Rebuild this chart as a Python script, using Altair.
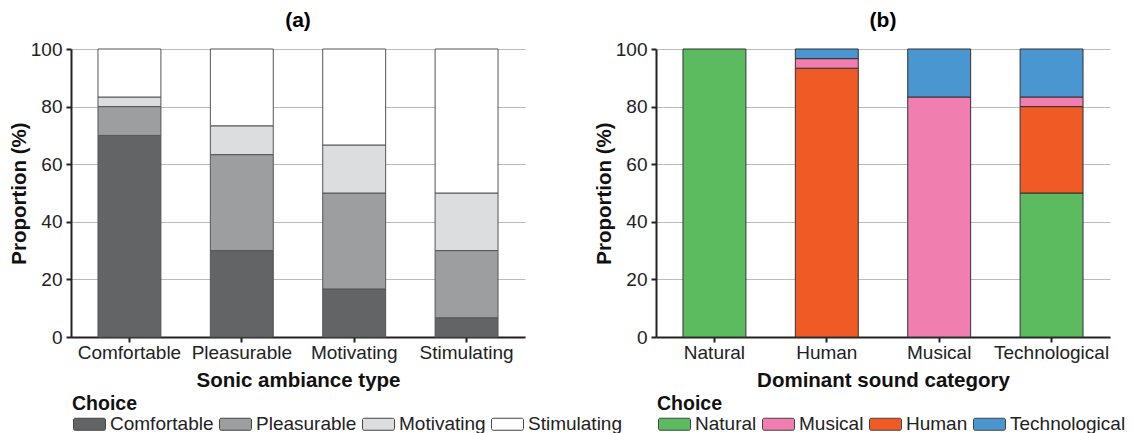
import altair as alt
import pandas as pd

# Panel (a): sonic ambiance type vs. chosen ambiance
a_categories = ["Comfortable", "Pleasurable", "Motivating", "Stimulating"]
a_choices = ["Comfortable", "Pleasurable", "Motivating", "Stimulating"]
a_colors = ["#636466", "#9d9ea0", "#dcdddf", "#ffffff"]
a_comfortable = [70, 30, 16.67, 6.67]
a_pleasurable = [10, 33.33, 33.33, 23.33]
a_motivating = [3.33, 10, 16.67, 20]
a_stimulating = [16.67, 26.67, 33.33, 50]

# Panel (b): dominant sound category vs. chosen category
b_categories = ["Natural", "Human", "Musical", "Technological"]
b_legend = ["Natural", "Musical", "Human", "Technological"]
b_stack = ["Natural", "Human", "Musical", "Technological"]
b_colors = ["#5cbb5f", "#f07fb0", "#f05a24", "#4a96d0"]
b_natural = [100, 0, 0, 50]
b_human = [0, 93.33, 0, 30]
b_musical = [0, 3.33, 83.33, 3.33]
b_technological = [0, 3.34, 16.67, 16.67]

FONT = "Liberation Sans"
# wide rounded-rectangle legend swatch (about 32 x 12 px at symbolSize 256),
# drawn rightwards from the left edge of the symbol slot
SYMBOL = ("M-0.8,-0.75 H2.8 A0.2,0.2 0 0 1 3,-0.55 V0.55 A0.2,0.2 0 0 1 2.8,0.75 "
          "H-0.8 A0.2,0.2 0 0 1 -1,0.55 V-0.55 A0.2,0.2 0 0 1 -0.8,-0.75 Z")


def long_table(categories, series, order_names):
    rows = []
    for name, vals in series.items():
        for cat, v in zip(categories, vals):
            if v > 0:
                rows.append({"cat": cat, "choice": name, "value": v,
                             "ord": order_names.index(name)})
    return pd.DataFrame(rows)


df_a = long_table(a_categories, {
    "Comfortable": a_comfortable, "Pleasurable": a_pleasurable,
    "Motivating": a_motivating, "Stimulating": a_stimulating}, a_choices)
df_b = long_table(b_categories, {
    "Natural": b_natural, "Human": b_human,
    "Musical": b_musical, "Technological": b_technological}, b_stack)


def panel(df, categories, domain, colors, xtitle, title, stroke):
    return alt.Chart(df).mark_bar(stroke=stroke, strokeWidth=1).encode(
        x=alt.X("cat:N", sort=categories, title=xtitle,
                scale=alt.Scale(paddingInner=0.44, paddingOuter=0.24),
                axis=alt.Axis(labelAngle=0)),
        y=alt.Y("value:Q", stack="zero", title="Proportion (%)",
                scale=alt.Scale(domain=[0, 100]),
                axis=alt.Axis(values=[0, 20, 40, 60, 80, 100])),
        color=alt.Color("choice:N", title="Choice",
                        scale=alt.Scale(domain=domain, range=colors),
                        legend=alt.Legend(orient="none", legendX=1, legendY=346,
                                          direction="horizontal", columns=4,
                                          symbolType=SYMBOL, symbolSize=256,
                                          symbolStrokeColor="#444",
                                          symbolStrokeWidth=1,
                                          labelOffset=19, titlePadding=0,
                                          columnPadding=3, padding=0)),
        order=alt.Order("ord:Q", sort="ascending"),
    ).properties(
        width=454, height=288,
        title=alt.TitleParams(title, fontSize=21, font=FONT, fontWeight="bold",
                              offset=9, anchor="middle"),
    )


left = panel(df_a, a_categories, a_choices, a_colors,
             "Sonic ambiance type", "(a)", "#555")
right = panel(df_b, b_categories, b_legend, b_colors,
              "Dominant sound category", "(b)", "#333")

chart = alt.hconcat(left, right, spacing=131, bounds="flush").resolve_scale(
    color="independent"
).properties(
    padding={"left": 9, "top": 10, "right": 1, "bottom": 0},
).configure_view(stroke=None).configure_axis(
    labelFont=FONT, titleFont=FONT, labelFontSize=19, titleFontSize=20.5,
    titleFontWeight="bold", labelColor="#222", titleColor="#111",
    domainColor="#222", domainWidth=2, tickColor="#222", tickWidth=2,
    tickSize=5, gridColor="#bbbbbb", gridWidth=1,
).configure_axisX(grid=False, titlePadding=8, labelPadding=1).configure_axisY(
    titlePadding=1, labelPadding=4,
).configure_legend(
    titleFont=FONT, labelFont=FONT, titleFontSize=19.5, labelFontSize=19,
    titleFontWeight="bold", titleColor="#111", labelColor="#222",
)

chart.save("out.html", embed_options={"renderer": "svg", "actions": False})
